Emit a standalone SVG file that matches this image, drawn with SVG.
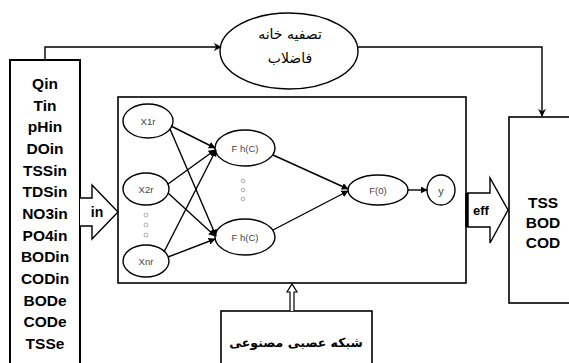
<svg xmlns="http://www.w3.org/2000/svg" width="569" height="363" viewBox="0 0 569 363">
<defs>
<marker id="ah" viewBox="0 0 10 10" refX="9" refY="5" markerWidth="7" markerHeight="7" orient="auto" markerUnits="userSpaceOnUse"><path d="M0,0 L10,5 L0,10 z" fill="#000"/></marker>
<marker id="ah2" viewBox="0 0 10 10" refX="9" refY="5" markerWidth="8" markerHeight="8" orient="auto" markerUnits="userSpaceOnUse"><path d="M0,0 L10,5 L0,10 L3,5 z" fill="#000"/></marker>
</defs>
<style>
.box{fill:#fff;stroke:#000;stroke-width:1.6}
.nd{fill:#fff;stroke:#000;stroke-width:1.4}
.ln{fill:none;stroke:#000;stroke-width:1.4}
.lst{font-family:"Liberation Sans",Arial,sans-serif;font-weight:bold;font-size:15.5px;text-anchor:middle;dominant-baseline:central;fill:#000}
.sm{font-family:"Liberation Sans",Arial,sans-serif;font-size:9.5px;text-anchor:middle;dominant-baseline:central;fill:#444}
.fa{font-family:"DejaVu Sans",sans-serif;font-size:14px;text-anchor:middle;dominant-baseline:central;fill:#000}
.dot{fill:none;stroke:#999;stroke-width:0.8}
</style>
<rect width="569" height="363" fill="#fff"/>

<g id="inputs">
<rect class="box" x="10" y="60" width="70" height="310" style="stroke-width:2"/>
<text class="lst" x="45" y="83">Qin</text>
<text class="lst" x="45" y="105">Tin</text>
<text class="lst" x="45" y="126">pHin</text>
<text class="lst" x="45" y="148">DOin</text>
<text class="lst" x="45" y="170">TSSin</text>
<text class="lst" x="45" y="191">TDSin</text>
<text class="lst" x="45" y="213">NO3in</text>
<text class="lst" x="45" y="235">PO4in</text>
<text class="lst" x="45" y="256">BODin</text>
<text class="lst" x="45" y="278">CODin</text>
<text class="lst" x="45" y="300">BODe</text>
<text class="lst" x="45" y="321">CODe</text>
<text class="lst" x="45" y="343">TSSe</text>
</g>

<g id="wwtp">
<ellipse class="nd" cx="289" cy="51" rx="69" ry="38"/>
<text class="fa" x="290" y="34">تصفیه خانه</text>
<text class="fa" x="290" y="58">فاضلاب</text>
</g>

<g id="outputs">
<rect class="box" x="509" y="117" width="70" height="186"/>
<text class="lst" x="543" y="202">TSS</text>
<text class="lst" x="543" y="222">BOD</text>
<text class="lst" x="543" y="242">COD</text>
</g>

<g id="ann">
<rect class="box" x="118" y="97" width="348" height="186"/>
</g>

<g id="ann-label">
<rect class="box" x="221" y="311" width="151" height="60"/>
<text class="fa" x="296" y="342" style="font-weight:bold;font-size:12.5px">شبکه عصبی مصنوعی</text>
</g>

<g id="x1r"><ellipse class="nd" cx="148" cy="121" rx="25" ry="17"/><text class="sm" x="148" y="121">X1r</text></g>
<g id="x2r"><ellipse class="nd" cx="146" cy="189" rx="23" ry="16"/><text class="sm" x="146" y="189">X2r</text></g>
<g id="xnr"><ellipse class="nd" cx="146" cy="261" rx="23" ry="16"/><text class="sm" x="146" y="261">Xnr</text></g>
<g id="xdots"><circle class="dot" cx="146" cy="215" r="2"/><circle class="dot" cx="146" cy="225" r="2"/><circle class="dot" cx="146" cy="235" r="2"/></g>
<g id="h1"><ellipse class="nd" cx="245" cy="148" rx="30" ry="18"/><text class="sm" x="245" y="148">F h(C)</text></g>
<g id="h2"><ellipse class="nd" cx="245" cy="237" rx="30" ry="18"/><text class="sm" x="245" y="237">F h(C)</text></g>
<g id="hdots"><circle class="dot" cx="243" cy="181" r="1.8"/><circle class="dot" cx="243" cy="190" r="1.8"/><circle class="dot" cx="243" cy="199" r="1.8"/></g>
<g id="f0"><ellipse class="nd" cx="378" cy="190" rx="30" ry="15"/><text class="sm" x="378" y="190">F(0)</text></g>
<g id="y"><ellipse class="nd" cx="441" cy="190" rx="14" ry="15"/><text class="sm" x="441" y="191" style="font-size:11px">y</text></g>

<g id="connectors">
<path class="ln" d="M45,60 V47 H221" marker-end="url(#ah2)"/>
<path class="ln" d="M358,47 H542 V116" marker-end="url(#ah2)"/>
<path class="ln" d="M171,126 L215,148" marker-end="url(#ah)"/>
<path class="ln" d="M170,129 L216,236" marker-end="url(#ah)"/>
<path class="ln" d="M168,184 L215,150" marker-end="url(#ah)"/>
<path class="ln" d="M168,193 L215,236" marker-end="url(#ah)"/>
<path class="ln" d="M164,252 L216,150" marker-end="url(#ah)"/>
<path class="ln" d="M168,257 L215,239" marker-end="url(#ah)"/>
<path class="ln" d="M273,155 L348,189" marker-end="url(#ah)"/>
<path class="ln" d="M273,230 L348,191" marker-end="url(#ah)"/>
<path class="ln" d="M408,190 L427,190" marker-end="url(#ah)"/>
<path d="M80,198 H92 V185 L118,212 L92,239 V226 H80" fill="#fff" stroke="#000" stroke-width="1.4"/>
<text class="lst" x="97" y="212" style="font-size:14px">in</text>
<path d="M467,193 H490 V178 L508,210 L490,243 V227 H467" fill="#fff" stroke="#000" stroke-width="1.4"/>
<line x1="467" y1="193" x2="467" y2="227" stroke="#000" stroke-width="3.5"/>
<text class="lst" x="481" y="210" style="font-size:13px">eff</text>
<path d="M290,311 V292 H287 L292,284 L297,292 H294 V311" fill="#fff" stroke="#000" stroke-width="1.2"/>
</g>
</svg>
